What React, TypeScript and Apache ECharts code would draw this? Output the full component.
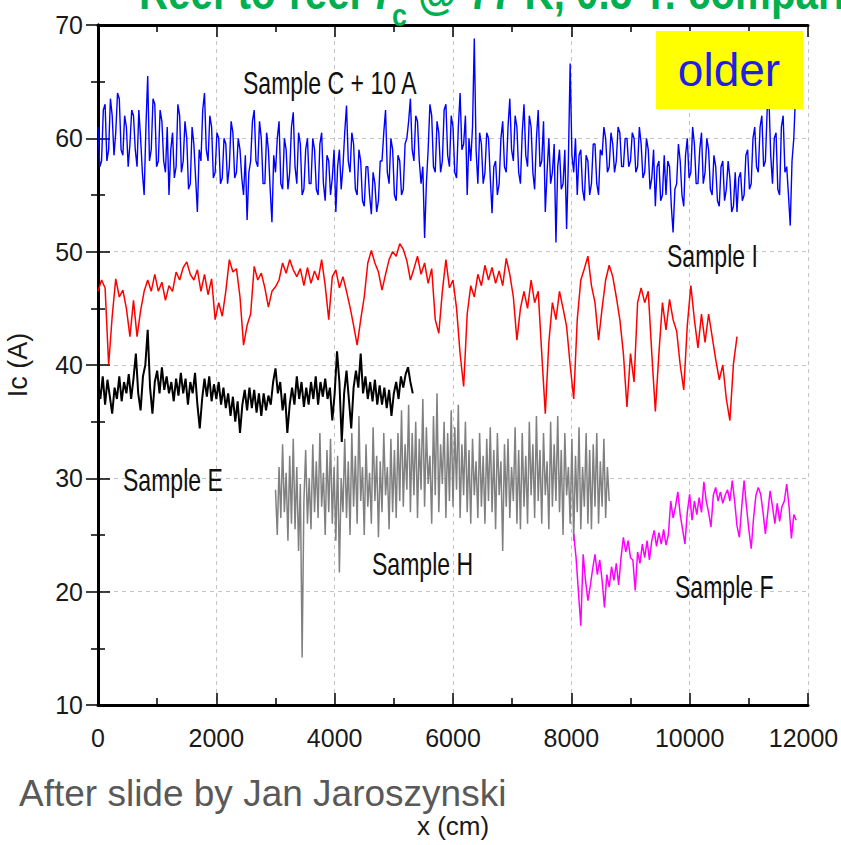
import React, { useEffect, useRef } from "react";
import * as echarts from "echarts";

// ---- axis ticks ----
const X_MIN = 0;
const X_MAX = 12000;
const X_INTERVAL = 2000;
const Y_MIN = 10;
const Y_MAX = 70;
const Y_INTERVAL = 10;

// ---- Sample C + 10 A (blue), x from 0, step 30 cm ----
const blueX0 = 0;
const blueStep = 30;
const blueValues = [
  61, 57.5, 58, 62.5, 63, 58, 59, 63.5, 62, 58.5, 60.5, 64, 63.5, 59, 58.5, 62, 61, 57.5, 59.5, 62.5,
  62, 59, 57.5, 62.5, 60, 57, 55, 61, 65.5, 58, 59, 63.5, 63, 57.5, 58, 62.5, 61.5, 58, 57, 61,
  55, 59, 60.5, 56.5, 57.5, 63, 62, 57, 58, 61.5, 60, 55.5, 56, 61, 59.5, 56.5, 53.5, 59, 58, 62.5,
  64, 59, 58, 62, 61, 56.5, 57, 60.5, 60, 56, 56.5, 60, 59.5, 56, 57.5, 61.5, 60.5, 56.5, 57, 60,
  59, 56.5, 55, 58.5, 52.8, 57, 58, 61.5, 62.5, 58, 57.5, 61.5, 60, 56, 56, 60.5, 59, 55.5, 52.6, 58.5,
  57, 60, 61.5, 56, 55.5, 60, 59, 55.5, 57, 61, 62.3, 57.5, 56, 60.5, 59.5, 55, 55.5, 59, 60, 56,
  56, 60, 59, 55.5, 55, 59.5, 60.5, 56, 54.5, 58.5, 58, 55, 56.5, 59, 53.5, 57.5, 59, 55.5, 57.5, 60.5,
  62.9, 58, 57, 60.5, 59.5, 55.5, 55, 59, 58, 54.5, 54, 57.5, 57.5, 55, 53.3, 57, 56, 53.5, 54.5, 58,
  58, 60.5, 62.5, 57, 56, 60, 59, 55, 54.5, 58.5, 58, 55, 55.5, 59.5, 60, 61.5, 63.5, 59, 58, 62,
  61.5, 58, 56, 57.5, 51.2, 56, 59, 63, 62, 57.5, 57, 61.5, 60.5, 57, 58, 62.5, 63, 58.5, 57.5, 62,
  61, 57, 56.5, 61, 64, 59, 59.5, 62, 55, 60, 58, 61, 68.8, 59, 56, 60.5, 59.5, 56, 57, 60.5,
  60, 56.5, 53.4, 57.5, 58, 55, 56, 60, 61.5, 57.5, 57, 61, 63.5, 59, 58, 62, 61, 57, 56, 60.5,
  63, 58.5, 57.5, 62, 61, 57, 55.5, 60, 62.5, 57.5, 58, 61.5, 53.5, 57, 60, 56, 57, 59.5, 50.8, 57.5,
  59, 55.5, 56, 59, 52, 58, 66.6, 58.5, 57, 60, 55, 58.5, 59, 55.5, 54.5, 58.5, 58, 55, 56, 59.5,
  59.5, 56, 55, 59, 58.5, 61, 60, 57, 57.5, 60.5, 59.5, 57, 58, 61, 60.5, 57.5, 57.5, 60, 60, 57.5,
  58, 60.5, 60, 57, 57.5, 61, 59.5, 56.5, 57, 60, 59, 55.5, 56.5, 59, 54, 57.5, 58, 54.5, 55, 58.5,
  55, 58, 57.5, 54, 51.7, 55.5, 56, 59.5, 58, 55, 54, 58.5, 60, 56.5, 57, 61, 59.5, 56, 56, 59,
  60.5, 56, 57, 60, 59, 55.5, 55, 58.5, 57.5, 54.5, 54, 57.5, 58, 54.5, 55.5, 58, 56.5, 53.5, 54, 57,
  53.5, 56.5, 57, 54.5, 55, 58.5, 59, 55.5, 56, 60, 61, 57.5, 57, 61, 62, 57.5, 58, 62.5, 63.5, 58.5,
  56, 60, 60.5, 55.5, 55, 61, 62, 57, 57.5, 55, 52.3, 58, 60, 64, 63,
];

// ---- Sample I (red), x from 0, step 60 cm ----
const redX0 = 0;
const redStep = 60;
const redValues = [
  46.5, 47.5, 46.8, 40, 44.3, 47.6, 46, 46.6, 45, 42.5,
  45.7, 42.5, 44.8, 46.5, 47.5, 46.5, 48, 46.5, 47.3, 45.7,
  47, 46.5, 48.2, 47.5, 48.6, 49.1, 48, 47.5, 48.4, 46.5,
  48, 46.2, 47.6, 44, 45.5, 44.3, 46.5, 49.3, 48.2, 48.5,
  46, 41.75, 43.5, 44.5, 48.7, 47.5, 48.1, 46.8, 45.1, 46.5,
  46.9, 47.5, 49, 48.1, 49.3, 48.4, 47.8, 48.5, 47, 48.6,
  47.2, 48.3, 47.5, 49.3, 47, 44, 47.8, 48.4, 46.8, 47.8,
  46.5, 45.1, 43.5, 41.75, 44, 46, 49, 50.1, 49, 48.2,
  46.6, 48, 49.3, 50, 49.6, 50.7, 50.2, 49.2, 47.5, 48.5,
  49.6, 48, 49, 47.2, 48.5, 44, 42.8, 46.5, 49.3, 46.8,
  47.5, 45, 41, 38.1, 44.5, 47, 46, 48, 47, 48.8,
  47.5, 48.6, 47.2, 48.3, 47, 49.4, 48, 46, 42.2, 45,
  46.5, 45, 47.5, 45.5, 46.5, 41, 35.7, 42, 45.5, 44,
  46.5, 45, 43.4, 40, 37, 44, 47.5, 48.5, 49.6, 47,
  45.5, 42.2, 45, 47.5, 48.8, 47.8, 46, 44, 41, 36.3,
  41, 38.5, 45.5, 46.8, 45.5, 46.5, 41, 35.9, 41, 45.5,
  43.1, 45.8, 44, 43, 40, 37.8, 43.5, 47, 44, 41.5,
  44.5, 42, 44.5, 42.5, 40.5, 38.7, 40, 37, 35.1, 40.1,
  42.5,
];

// ---- Sample E (black), x from 0, step 40 cm ----
const blackX0 = 0;
const blackStep = 40;
const blackValues = [
  38.5, 37, 39, 36.5, 38.7, 37.2, 35.7, 38, 37, 39,
  36.8, 38.5, 37.5, 39.2, 37, 38.8, 41, 37.5, 36, 39,
  40, 43.1, 38, 35.7, 38.5, 39.5, 37.5, 39.8, 37.8, 39,
  37.5, 38.5, 36.8, 38.8, 37.3, 39.3, 37.5, 38.8, 36.5, 38.5,
  37.5, 39.3, 36.5, 34.4, 37, 38.8, 37.2, 39, 36.8, 38.3,
  37, 38.5, 36.5, 38, 36.2, 37.5, 35.5, 37.2, 35, 36.8,
  34, 36.5, 37.8, 36, 38, 36.2, 37.8, 35.8, 37.5, 35.5,
  37.5, 36, 37.3, 36.5, 38.5, 39.7, 37.5, 38.5, 36, 37.5,
  34, 36.5, 38, 36.5, 39, 37, 38.5, 36.3, 38, 36.5,
  38.5, 37, 39, 36.5, 38.5, 37.2, 38.8, 37, 38, 35.1,
  37.5, 41.2, 38.5, 33.2, 37.5, 39.5, 37, 34.4, 38, 39.5,
  38, 41, 37.5, 39, 37, 38.5, 36.8, 38.7, 36.5, 38.2,
  36.5, 38, 36.2, 37.8, 35.5, 37.5, 38.5, 37, 39, 38,
  39.2, 39.8, 38.5, 37.5,
];

// ---- Sample H (gray), x from 3000, step 30 cm ----
const grayX0 = 3000;
const grayStep = 30;
const grayValues = [
  29, 25, 31, 26.5, 33, 27, 30.5, 24.5, 32, 26,
  33.5, 25.5, 31, 23.6, 29.5, 14.2, 28, 32.5, 26, 30,
  25.5, 33, 27, 31.5, 26.5, 34, 27.5, 30.5, 25, 32.5,
  27, 33.5, 26, 31, 24.5, 32, 21.7, 30, 27, 33.5,
  26.5, 31.5, 25, 34, 27.5, 32, 26, 35.5, 28, 31,
  25, 33, 27.5, 30.5, 26, 34.5, 28, 32, 24.8, 31.5,
  27, 34, 28.5, 31, 25.5, 33.5, 27, 32.5, 26.5, 34,
  28, 36, 27.5, 33, 29, 36.5, 27, 34, 28.5, 35,
  26.5, 33.5, 29, 37, 27.5, 34.5, 29.5, 32, 26, 35.5,
  28.5, 37.5, 27, 33, 29.5, 35, 26.5, 34, 28, 36,
  27.5, 34.5, 29, 36.5, 26.5, 33, 28.5, 35, 27, 32.5,
  26, 33.5, 28.5, 31.5, 26.5, 34, 27.5, 32, 26, 33.5,
  28, 34.5, 27, 32.5, 25.5, 34, 28.5, 31.5, 23.6, 33,
  27.5, 33.5, 26.5, 31, 28, 34.5, 26, 32.5, 25.5, 34,
  27.5, 32, 26, 35, 28.5, 33, 26.5, 35.5, 28, 32.5,
  26, 34, 28.5, 31.5, 25.5, 35, 27.5, 33, 28, 35.5,
  27, 32.5, 25, 34, 28.5, 31, 26, 33.5, 24.5, 32,
  27, 34.5, 25.5, 31, 27.5, 34, 26, 32.5, 25.5, 33,
  27.5, 34, 26, 31.5, 27.5, 33.5, 26.5, 31, 28,
];

// ---- Sample F (magenta), x from 8040, step 40 cm ----
const magentaX0 = 8040;
const magentaStep = 40;
const magentaValues = [
  25.1, 23, 20, 17, 23.3, 21, 19.2, 20.5, 22, 23.3,
  21.5, 22.8, 21, 18.6, 21.5, 20.4, 22.2, 21, 22.5, 20.6,
  23, 24.8, 23.5, 24.5, 23, 22.8, 20.1, 23.5, 22.5, 24.2,
  23, 24.5, 22.8, 24.5, 25.4, 24, 25.2, 24.2, 25.5, 24.1,
  25, 28, 26.5, 27.5, 28.8, 26.8, 25.5, 24.2, 27, 28.6,
  26.3, 28, 26.8, 28.3, 27, 29.7, 28, 27, 25.7, 28.5,
  29.2, 28, 28.8, 27.8, 28.5, 29, 28, 29.8, 28, 25.8,
  24.8, 27.5, 29.8, 27.5, 25.5, 23.8, 26.5, 28.5, 29.2, 28.6,
  27, 25.1, 27, 28.9, 27.5, 26, 27.8, 26.2, 27.5, 28,
  29.5, 27.5, 24.7, 26.8, 26.3,
];

// ---- texts ----
const sampleLabels = [
  { text: "Sample C + 10 A", x: 243, y: 83 },
  { text: "Sample I", x: 667, y: 256 },
  { text: "Sample E", x: 123, y: 480 },
  { text: "Sample H", x: 372, y: 564 },
  { text: "Sample F", x: 675, y: 587 },
];

const FONT = '"Liberation Sans", Arial, "DejaVu Sans", sans-serif';

function toPairs(x0: number, step: number, vals: number[]) {
  return vals.map((v, i) => [x0 + i * step, v]);
}

export default function App() {
  const ref = useRef<HTMLDivElement>(null);

  useEffect(() => {
    if (!ref.current) return;
    const chart = echarts.init(ref.current, undefined, { renderer: "svg" });

    const tickStyle = { color: "#000", width: 1.5 };
    const axisLine = { show: true, lineStyle: { color: "#000", width: 3 } };
    const splitLine = {
      show: true,
      lineStyle: { color: "#c4c4c4", width: 1, type: [4, 4] as number[] },
    };
    const baseLabel = { fontFamily: FONT, fontSize: 25, color: "#1a1a1a" };

    const lineSeries = (name: string, color: string, width: number, data: number[][]) => ({
      name,
      type: "line",
      data,
      symbol: "none",
      showSymbol: false,
      lineStyle: { color, width },
      itemStyle: { color },
      xAxisIndex: 0,
      yAxisIndex: 0,
    });

    const titleText = (text: string, x: number, y: number, size: number, italic = false) => ({
      type: "text",
      z: 101,
      x,
      y,
      scaleX: 0.84,
      style: {
        text,
        fontFamily: FONT,
        fontWeight: "bold",
        fontStyle: italic ? "italic" : "normal",
        fontSize: size,
        fill: "#00b050",
        align: "left",
        verticalAlign: "middle",
      },
    });

    const option: any = {
      animation: false,
      backgroundColor: "#ffffff",
      grid: {
        left: 98,
        right: 33,
        top: 25,
        bottom: 140,
        containLabel: false,
        outerBoundsMode: "none",
      },
      xAxis: [
        {
          type: "value",
          position: "bottom",
          min: X_MIN,
          max: X_MAX,
          interval: X_INTERVAL,
          axisLine,
          axisTick: { show: true, inside: true, length: 12, lineStyle: tickStyle },
          minorTick: { show: true, splitNumber: 2, length: 7, lineStyle: tickStyle },
          splitLine,
          axisLabel: {
            ...baseLabel,
            margin: 20,
            formatter: (v: number) => (v === X_MAX ? "{last|" + v + "}" : String(v)),
            rich: { last: { ...baseLabel, padding: [0, 9, 0, 0] } },
          },
          name: "x (cm)",
          nameLocation: "middle",
          nameGap: 108,
          nameTextStyle: { fontFamily: FONT, fontSize: 26, color: "#1a1a1a" },
        },
        {
          type: "value",
          position: "top",
          min: X_MIN,
          max: X_MAX,
          interval: X_INTERVAL,
          axisLine,
          axisTick: { show: true, inside: true, length: 12, lineStyle: tickStyle },
          minorTick: { show: true, splitNumber: 2, length: 7, lineStyle: tickStyle },
          splitLine: { show: false },
          axisLabel: { show: false },
        },
      ],
      yAxis: [
        {
          type: "value",
          position: "left",
          min: Y_MIN,
          max: Y_MAX,
          interval: Y_INTERVAL,
          axisLine,
          axisTick: { show: true, inside: true, length: 12, lineStyle: tickStyle },
          minorTick: { show: true, splitNumber: 2, length: 7, lineStyle: tickStyle },
          splitLine,
          axisLabel: { ...baseLabel, margin: 15, formatter: (v: number) => String(v) },
          name: "Ic (A)",
          nameLocation: "middle",
          nameGap: 67,
          nameTextStyle: { fontFamily: FONT, fontSize: 27, color: "#1a1a1a" },
        },
        {
          type: "value",
          position: "right",
          min: Y_MIN,
          max: Y_MAX,
          interval: Y_INTERVAL,
          axisLine,
          axisTick: { show: true, inside: true, length: 12, lineStyle: tickStyle },
          minorTick: { show: true, splitNumber: 2, length: 7, lineStyle: tickStyle },
          splitLine: { show: false },
          axisLabel: { show: false },
        },
      ],
      series: [
        lineSeries("Sample H", "#808080", 1.5, toPairs(grayX0, grayStep, grayValues)),
        lineSeries("Sample E", "#000000", 2, toPairs(blackX0, blackStep, blackValues)),
        lineSeries("Sample I", "#ff0000", 1.5, toPairs(redX0, redStep, redValues)),
        lineSeries("Sample F", "#ff00ff", 1.5, toPairs(magentaX0, magentaStep, magentaValues)),
        lineSeries("Sample C + 10 A", "#0000ff", 1.4, toPairs(blueX0, blueStep, blueValues)),
      ],
      graphic: [
        {
          type: "rect",
          z: 100,
          shape: { x: 656, y: 31, width: 147, height: 78 },
          style: { fill: "#ffff00" },
        },
        {
          type: "text",
          z: 101,
          x: 729,
          y: 70,
          style: {
            text: "older",
            fontFamily: FONT,
            fontSize: 46,
            fill: "#1f1fe6",
            align: "center",
            verticalAlign: "middle",
          },
        },
        ...sampleLabels.map((l) => ({
          type: "text",
          z: 101,
          x: l.x,
          y: l.y,
          scaleX: 0.72,
          style: {
            text: l.text,
            fontFamily: FONT,
            fontSize: 32,
            fill: "#111",
            align: "left",
            verticalAlign: "middle",
          },
        })),
        {
          type: "text",
          z: 101,
          x: 19,
          y: 793,
          style: {
            text: "After slide by Jan Jaroszynski",
            fontFamily: FONT,
            fontSize: 37,
            fill: "#595959",
            align: "left",
            verticalAlign: "middle",
          },
        },
        titleText("Reel-to-reel ", 139, -8, 48),
        titleText("I", 376, -8, 48, true),
        titleText("c", 392, 15, 32),
        titleText("@ 77 K, 0.5 T: comparison", 418, -8, 48),
      ],
    };

    chart.setOption(option);
    return () => chart.dispose();
  }, []);

  return (
    <div
      ref={ref}
      style={{ position: "absolute", left: 0, top: 0, width: 841, height: 845, background: "#fff" }}
    />
  );
}
